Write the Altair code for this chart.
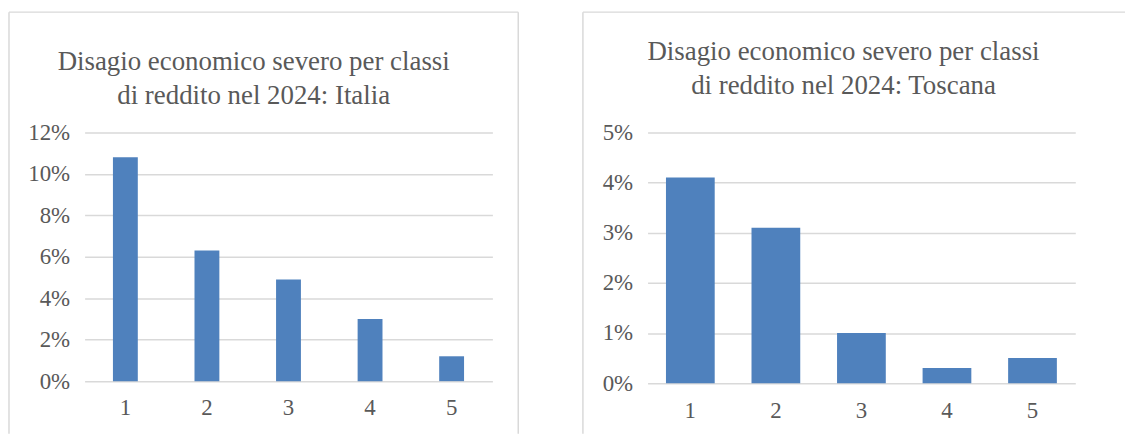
import altair as alt
import pandas as pd

classi = ["1", "2", "3", "4", "5"]
italia = [10.8, 6.3, 4.9, 3.0, 1.2]
toscana = [4.1, 3.1, 1.0, 0.3, 0.5]
ticks_it = [0, 2, 4, 6, 8, 10, 12]
ticks_to = [0, 1, 2, 3, 4, 5]
title_it = ["Disagio economico severo per classi", "di reddito nel 2024: Italia"]
title_to = ["Disagio economico severo per classi", "di reddito nel 2024: Toscana"]

FONT = "Liberation Serif"
GRAY = "#595959"
GRID = "#D9D9D9"
BAR = "#4F81BD"

one = pd.DataFrame({"k": [0]})


def rule(x, x2, y, y2):
    return alt.Chart(one).mark_rule(color=GRID, strokeWidth=1.5, clip=False).encode(
        x=alt.value(x), x2=alt.value(x2), y=alt.value(y), y2=alt.value(y2)
    )


def panel(values, ticks, width, height, bar_size, title, tx, ty, frame, xpad):
    df = pd.DataFrame({"classe": classi, "valore": [v / 100 for v in values]})
    bars = alt.Chart(df).mark_bar(size=bar_size, color=BAR).encode(
        x=alt.X(
            "classe:N",
            sort=classi,
            scale=alt.Scale(paddingInner=0, paddingOuter=0),
            axis=alt.Axis(
                labelAngle=0, title=None, domain=False, ticks=False,
                labelFont=FONT, labelFontSize=23, labelColor=GRAY, labelPadding=xpad,
            ),
        ),
        y=alt.Y(
            "valore:Q",
            scale=alt.Scale(domain=[0, ticks[-1] / 100], nice=False),
            axis=alt.Axis(
                values=[t / 100 for t in ticks], format=".0%", title=None,
                domain=False, ticks=False, gridColor=GRID, gridWidth=1.5,
                labelFont=FONT, labelFontSize=23, labelColor=GRAY, labelPadding=15,
            ),
        ),
    )
    txt = alt.Chart(one).mark_text(
        text=title, font=FONT, fontSize=27, color=GRAY, align="center",
        baseline="alphabetic", lineHeight=34,
    ).encode(x=alt.value(tx), y=alt.value(ty))
    frames = [rule(*f) for f in frame]
    return alt.layer(*frames, bars, txt).properties(width=width, height=height)


left = panel(
    italia, ticks_it, 410, 250, 25, title_it, 170, -63,
    [(-76, -76, -121, 303), (-76, 436, -121, -121), (436, 436, -121, 303)], 16,
)
right = panel(
    toscana, ticks_to, 430, 252, 49, title_to, 197, -73,
    [(-65, -65, -121, 303), (-65, 480, -121, -121)], 17,
)

chart = alt.hconcat(left, right, spacing=63).properties(
    padding={"left": 0, "top": 2, "right": 0, "bottom": 0}
).configure_view(stroke=None)

chart.save("out.html", embed_options={"renderer": "svg", "actions": False})
